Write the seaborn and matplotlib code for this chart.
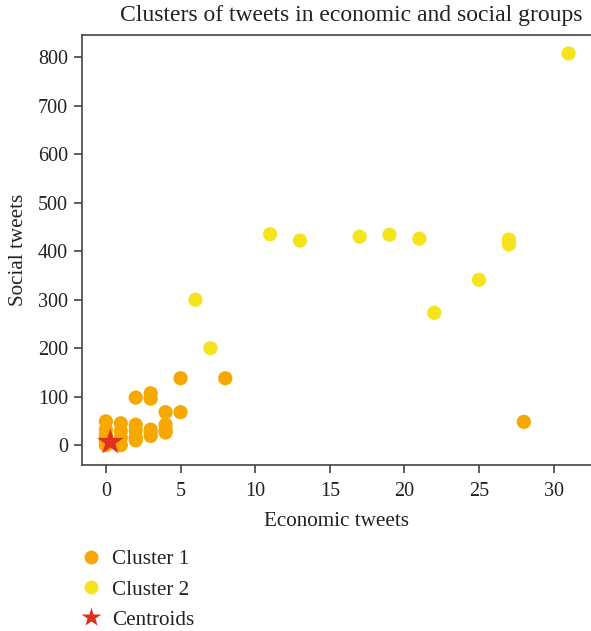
import numpy as np
import pandas as pd
import matplotlib
matplotlib.use("Agg")
import matplotlib.pyplot as plt
import seaborn as sns
from matplotlib.lines import Line2D

# Cluster 1 (orange)
c1_econ = [0, 0, 0, 0, 0, 1, 1, 1, 1, 2, 2, 2, 2, 3, 3, 3, 4, 4, 4,
           2, 3, 3, 4, 5, 5, 8, 28]
c1_social = [0, 10, 20, 32, 49, 0, 15, 29, 45, 10, 16, 30, 42, 19, 25, 32, 26, 30, 42,
             98, 96, 107, 68, 68, 138, 138, 48]
# Cluster 2 (yellow)
c2_econ = [31, 11, 13, 17, 19, 21, 27, 27, 25, 22, 6, 7]
c2_social = [808, 435, 422, 430, 434, 426, 424, 414, 341, 273, 300, 200]
# Centroids
cen_econ = [0.3]
cen_social = [6]

labels = ["Cluster 1", "Cluster 2", "Centroids"]
title = "Clusters of tweets in economic and social groups"
xticks = [0, 5, 10, 15, 20, 25, 30]
yticks = [0, 100, 200, 300, 400, 500, 600, 700, 800]

col1 = "#F7A800"
col2 = "#F5E31C"
colc = "#E0301E"

df = pd.DataFrame({
    "econ": c1_econ + c2_econ,
    "social": c1_social + c2_social,
    "cluster": [labels[0]] * len(c1_econ) + [labels[1]] * len(c2_econ),
})
dfc = pd.DataFrame({"econ": cen_econ, "social": cen_social})

sns.set_theme(style="ticks")
plt.rcParams['font.family'] = ['Liberation Serif', 'DejaVu Serif']

fig = plt.figure(figsize=(5.91, 6.31), dpi=100)
ax = fig.add_axes([82/591, 1 - 465/631, 1 - 82/591, (465 - 35)/631])

sns.scatterplot(data=df, x="econ", y="social", hue="cluster",
                palette={labels[0]: col1, labels[1]: col2},
                s=105, edgecolor="none", linewidth=0, ax=ax, legend=False, zorder=2)
sns.scatterplot(data=dfc, x="econ", y="social", marker="*", color=colc,
                s=400, edgecolor="none", linewidth=0, ax=ax, legend=False, zorder=3)

ax.set_xlim(-1.6, 32.5)
ax.set_ylim(-41, 846)
ax.set_xticks(xticks)
ax.set_yticks(yticks)
ax.tick_params(direction="out", length=6, width=1.1, colors="#333333",
               labelcolor="#222222", labelsize=14.5)
ax.tick_params(axis="x", pad=6)
ax.tick_params(axis="y", pad=4)
for side in ["left", "bottom", "top"]:
    ax.spines[side].set_color("#444444")
    ax.spines[side].set_linewidth(1.2)
ax.spines["right"].set_visible(False)

ax.set_xlabel("Economic tweets", fontsize=15.2, color="#222222", labelpad=8)
ax.set_ylabel("Social tweets", fontsize=15.2, color="#222222", labelpad=7)
fig.text(351/591, 1 - 15/631, title, ha="center", va="center", fontsize=17, color="#222222")

handles = [
    Line2D([], [], marker="o", linestyle="none", markersize=10, markerfacecolor=col1, markeredgecolor="none"),
    Line2D([], [], marker="o", linestyle="none", markersize=10, markerfacecolor=col2, markeredgecolor="none"),
    Line2D([], [], marker="*", linestyle="none", markersize=15, markerfacecolor=colc, markeredgecolor="none"),
]
fig.legend(handles, labels, loc="upper left", bbox_to_anchor=(70/591, 1 - 541/631),
           frameon=False, fontsize=15.2, handletextpad=0.4, labelspacing=0.5,
           handlelength=1.2, borderaxespad=0, labelcolor="#222222")

fig.savefig("out.png", dpi=100)
